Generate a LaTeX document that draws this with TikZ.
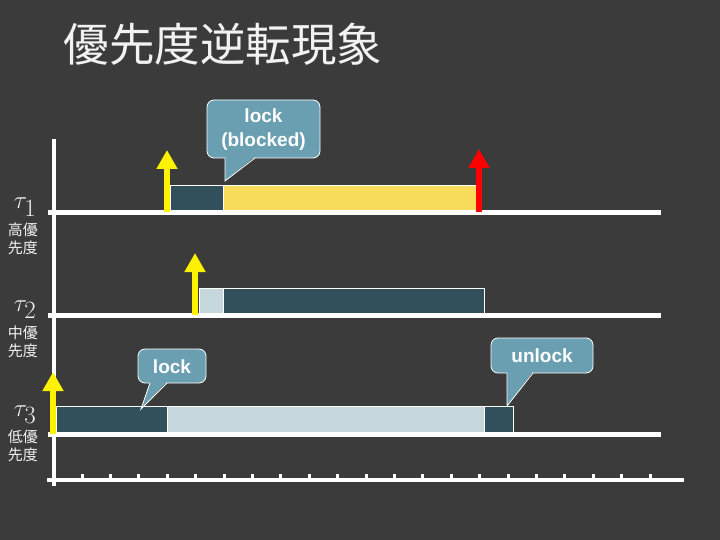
\documentclass[tikz,border=0pt]{standalone}
\usepackage{fontspec}
\newfontfamily\cjk{Noto Sans CJK JP}
\newfontfamily\arialf{Liberation Sans}
\usetikzlibrary{arrows.meta}
\definecolor{bgc}{HTML}{3B3B3B}
\definecolor{darkbar}{HTML}{31505C}
\definecolor{lightbar}{HTML}{C6D7DD}
\definecolor{yelbar}{HTML}{F6DC5A}
\definecolor{callc}{HTML}{6A9FB1}
\definecolor{txtc}{HTML}{F2F2F2}
\tikzset{
  bar/.style={draw=white, line width=0.8pt},
  tline/.style={draw=white, line width=5pt},
  evarrow/.style={line width=6pt, -{Triangle[width=20pt,length=19pt]}},
  callbox/.style={fill=callc, draw=white, line width=0.8pt, rounded corners=7pt},
  calltext/.style={text=white, font=\arialf\bfseries\fontsize{19}{24}\selectfont, align=center, inner sep=0pt},
  taulabel/.style={text=txtc, font=\fontsize{33}{33}\selectfont, anchor=base, inner sep=0pt},
  prilabel/.style={text=txtc, font=\cjk\fontsize{15}{15}\selectfont, inner sep=0pt}
}
\begin{document}
\begin{tikzpicture}[x=1pt,y=-1pt]
\fill[bgc] (0,0) rectangle (720,540);
\useasboundingbox (0,0) rectangle (720,540);

% title
\node[text=txtc, font=\cjk\fontsize{45.5}{45.5}\selectfont, inner sep=0pt] (title) at (223,44) {優先度逆転現象};

% bars tau1
\filldraw[bar, fill=darkbar] (170.7,185.7) rectangle (223.3,212);
\filldraw[bar, fill=yelbar] (223.3,185.7) rectangle (477,212);
% bars tau2
\filldraw[bar, fill=lightbar] (199,288) rectangle (223,315);
\filldraw[bar, fill=darkbar] (223,288) rectangle (484,315);
% bars tau3
\filldraw[bar, fill=darkbar] (56,406) rectangle (167,434);
\filldraw[bar, fill=lightbar] (167,406) rectangle (484,434);
\filldraw[bar, fill=darkbar] (484,406) rectangle (513,434);

% axes
\coordinate (vtop) at (54,139);
\coordinate (vbot) at (54,486);
\draw[white, line width=4pt] (vtop) -- (vbot);
\coordinate (l1a) at (48,212.5); \coordinate (l1b) at (661,212.5);
\coordinate (l2a) at (48,315); \coordinate (l2b) at (661,315);
\coordinate (l3a) at (48,434); \coordinate (l3b) at (661,434);
\draw[tline] (l1a) -- (l1b);
\draw[tline] (l2a) -- (l2b);
\draw[tline] (l3a) -- (l3b);
\coordinate (ha) at (47,480); \coordinate (hb) at (684,480);
\draw[white, line width=4pt] (ha) -- (hb);
\foreach \k in {0,...,20} {
  \draw[white, line width=3pt] ({82.1+28.4*\k},481) -- ({82.1+28.4*\k},474);
}

% event arrows
\coordinate (a1s) at (167,212); \coordinate (a1e) at (167,150);
\coordinate (a2s) at (195,315); \coordinate (a2e) at (195,253);
\coordinate (a3s) at (53,434); \coordinate (a3e) at (53,372);
\coordinate (rs) at (479,212); \coordinate (re) at (479,149);
\draw[evarrow, yellow] (a1s) -- (a1e);
\draw[evarrow, yellow] (a2s) -- (a2e);
\draw[evarrow, yellow] (a3s) -- (a3e);
\draw[evarrow, red] (rs) -- (re);

% callout: lock (blocked)
\draw[callbox] (207,100) rectangle (320,158);
\fill[callc] (255,156.5) -- (225,181) -- (225,156.5) -- cycle;
\draw[white, line width=0.8pt] (255,158) -- (225,181) -- (225,158);
\node[calltext] (c1) at (263.5,130) {lock\\(blocked)};

% callout: lock
\draw[callbox] (138,349) rectangle (206,383);
\fill[callc] (150,381.5) -- (141,409) -- (167,381.5) -- cycle;
\draw[white, line width=0.8pt] (150,383) -- (141,409) -- (167,383);
\node[calltext] (c2) at (172,367) {lock};

% callout: unlock
\draw[callbox] (491,338) rectangle (593,373);
\fill[callc] (507,371.5) -- (507,406) -- (533,371.5) -- cycle;
\draw[white, line width=0.8pt] (507,373) -- (507,406) -- (533,373);
\node[calltext] (c3) at (542,356) {unlock};

% labels
\node[taulabel] (t1) at (25,209) {$\tau_1$};
\node[prilabel] (p1a) at (23,230) {高優};
\node[prilabel] (p1b) at (23,248) {先度};
\node[taulabel] (t2) at (25,311) {$\tau_2$};
\node[prilabel] (p2a) at (23,333) {中優};
\node[prilabel] (p2b) at (23,351) {先度};
\node[taulabel] (t3) at (25,416) {$\tau_3$};
\node[prilabel] (p3a) at (23,437) {低優};
\node[prilabel] (p3b) at (23,455) {先度};
\end{tikzpicture}
\end{document}
